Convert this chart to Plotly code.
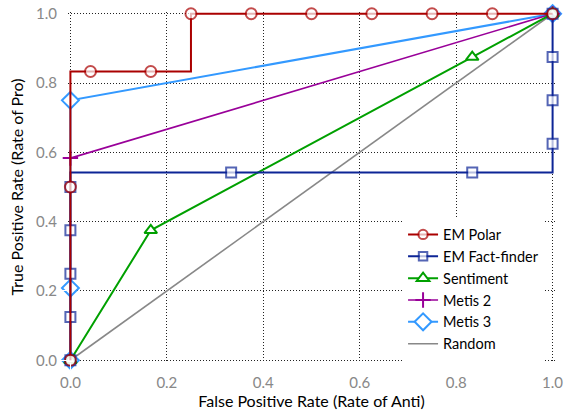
import plotly.graph_objects as go

# ---- data ----
polar_x = [0, 0, 0, 1/24, 1/6, 0.25, 0.25, 0.375, 0.5, 0.625, 0.75, 0.875, 1]
polar_y = [0, 0.5, 5/6, 5/6, 5/6, 5/6, 1, 1, 1, 1, 1, 1, 1]
polar_marker = [1, 1, 0, 1, 1, 0, 1, 1, 1, 1, 1, 1, 1]

ff_x = [0, 0, 0, 0, 0, 0, 1/3, 5/6, 1, 1, 1, 1, 1]
ff_y = [0, 0.125, 0.25, 0.375, 0.5, 13/24, 13/24, 13/24, 13/24, 0.625, 0.75, 0.875, 1]
ff_marker = [1, 1, 1, 1, 1, 0, 1, 1, 0, 1, 1, 1, 1]

sent_x = [0, 1/6, 5/6, 1]
sent_y = [0, 0.375, 0.875, 1]

metis2_x = [0, 1]
metis2_y = [7/12, 1]

metis3_x = [0, 0, 0, 1]
metis3_y = [0, 5/24, 0.75, 1]

random_x = [0, 1]
random_y = [0, 1]

ticks = [0.0, 0.2, 0.4, 0.6, 0.8, 1.0]
tick_labels = ["0.0", "0.2", "0.4", "0.6", "0.8", "1.0"]

FONT = "Lato"
MS = 11

fig = go.Figure()
fig.add_trace(go.Scatter(
    x=random_x, y=random_y, name="Random", mode="lines",
    line=dict(color="#888888", width=1.6)))
fig.add_trace(go.Scatter(
    x=metis3_x, y=metis3_y, name="Metis 3", mode="lines+markers",
    line=dict(color="#3399ff", width=2),
    marker=dict(symbol="diamond", size=MS + 2, color="white",
                line=dict(color="#3399ff", width=2)),
    cliponaxis=False))
fig.add_trace(go.Scatter(
    x=metis2_x, y=metis2_y, name="Metis 2", mode="lines+markers",
    line=dict(color="#990099", width=1.6),
    marker=dict(symbol="cross-thin-open", size=MS,
                line=dict(color="#990099", width=2)),
    cliponaxis=False))
fig.add_trace(go.Scatter(
    x=sent_x, y=sent_y, name="Sentiment", mode="lines+markers",
    line=dict(color="#00a000", width=2),
    marker=dict(symbol="triangle-up", size=MS, color="white",
                line=dict(color="#00a000", width=2)),
    cliponaxis=False))
fig.add_trace(go.Scatter(
    x=ff_x, y=ff_y, name="EM Fact-finder", mode="lines+markers",
    line=dict(color="#0d2596", width=2),
    marker=dict(symbol="square", size=[(MS - 1) * m for m in ff_marker], color="white",
                line=dict(color="#0d2596", width=2)),
    cliponaxis=False))
fig.add_trace(go.Scatter(
    x=polar_x, y=polar_y, name="EM Polar", mode="lines+markers",
    line=dict(color="#aa0000", width=2),
    marker=dict(symbol="circle", size=[MS * m for m in polar_marker], color="white",
                line=dict(color="#aa0000", width=2)),
    cliponaxis=False))

axis_common = dict(
    range=[-0.005, 1.005], tickvals=ticks, ticktext=tick_labels,
    showgrid=True, gridcolor="#222222", griddash="1px,2px", gridwidth=1,
    zeroline=False, showline=False, ticks="outside", ticklen=7, tickcolor="white",
    tickfont=dict(family=FONT, size=15, color="#888888"), automargin=False,
)

fig.update_layout(
    width=565, height=415,
    margin=dict(l=67.6, r=9.6, t=12.3, b=52.5),
    plot_bgcolor="white", paper_bgcolor="white",
    font=dict(family=FONT, size=15, color="black"),
    xaxis=dict(title=dict(text="False Positive Rate (Rate of Anti)", font=dict(size=16), standoff=0), **axis_common),
    yaxis=dict(title=dict(text="True Positive Rate (Rate of Pro)", font=dict(size=16), standoff=8), **axis_common),
    legend=dict(x=0.688, y=0.41, xanchor="left", yanchor="top", traceorder="reversed",
                bgcolor="white", borderwidth=0, font=dict(family=FONT, size=14.5),
                tracegroupgap=0, itemwidth=30),
    showlegend=True,
)

fig.write_html("out.html")
